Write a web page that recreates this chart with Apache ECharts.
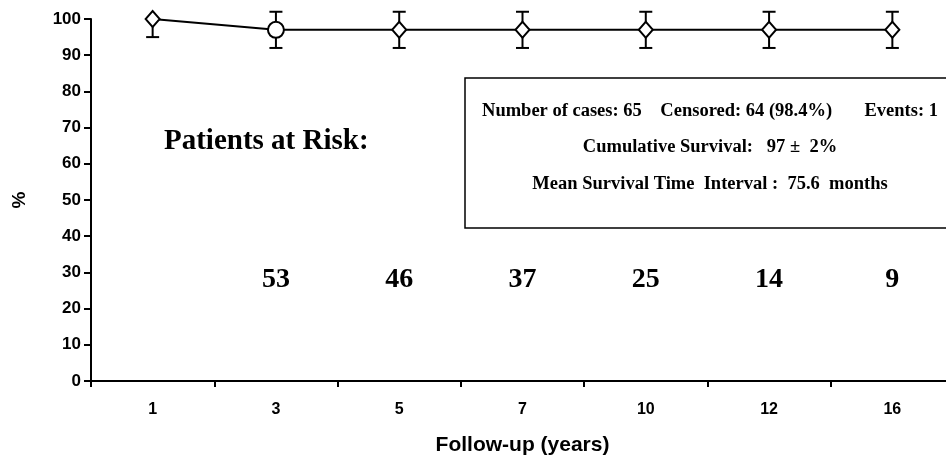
<!DOCTYPE html>
<html>
<head>
<meta charset="utf-8">
<script src="https://cdn.jsdelivr.net/npm/echarts@6/dist/echarts.min.js"></script>
<style>
  html, body { margin: 0; padding: 0; background: #fff; }
  #chart { width: 946px; height: 459px; }
</style>
</head>
<body>
<div id="chart"></div>
<script>
// Follow-up survival curve with error bars and a patients-at-risk row
const years = ['1', '3', '5', '7', '10', '12', '16']
const survival = [100, 97, 97, 97, 97, 97, 97]
const errLow = [95, 92, 92, 92, 92, 92, 92]
const errHigh = [100, 102, 102, 102, 102, 102, 102]
const pointSymbols = ['diamond', 'circle', 'diamond', 'diamond', 'diamond', 'diamond', 'diamond']
const riskYears = ['3', '5', '7', '10', '12', '16']
const riskCounts = [53, 46, 37, 25, 14, 9]
const riskRowLevel = 28
const statsLines = [
  'Number of cases: 65    Censored: 64 (98.4%)       Events: 1',
  'Cumulative Survival:   97 \u00b1  2%',
  'Mean Survival Time  Interval :  75.6  months',
]

const AXIS_FONT = { fontFamily: 'Liberation Sans, Arial', fontWeight: 'bold', color: '#000' }
const SERIF = 'Liberation Serif, Times New Roman'

const chart = echarts.init(document.getElementById('chart'))

chart.setOption({
  animation: false,
  backgroundColor: '#fff',
  grid: { left: 91, right: -8, top: 19, bottom: 78, containLabel: false, outerBoundsMode: 'none' },
  xAxis: {
    type: 'category',
    data: years,
    boundaryGap: true,
    name: 'Follow-up (years)',
    nameLocation: 'middle',
    nameGap: 54,
    nameTextStyle: { ...AXIS_FONT, fontSize: 21 },
    axisLine: { lineStyle: { color: '#000', width: 2 } },
    axisTick: { show: true, length: 6, lineStyle: { color: '#000', width: 2 } },
    axisLabel: { ...AXIS_FONT, fontSize: 16, margin: 21 },
    splitLine: { show: false },
  },
  yAxis: {
    type: 'value',
    min: 0,
    max: 100,
    interval: 10,
    name: '%',
    nameLocation: 'middle',
    nameGap: 62,
    nameRotate: 90,
    nameTextStyle: { ...AXIS_FONT, fontSize: 19 },
    axisLine: { show: true, lineStyle: { color: '#000', width: 2 } },
    axisTick: { show: true, length: 7, lineStyle: { color: '#000', width: 2 } },
    axisLabel: { ...AXIS_FONT, fontSize: 17, margin: 10 },
    splitLine: { show: false },
  },
  graphic: [
    {
      type: 'rect',
      shape: { x: 465, y: 78, width: 500, height: 150 },
      style: { fill: '#fff', stroke: '#000', lineWidth: 1.5 },
      z: 1,
    },
    ...statsLines.map((t, i) => ({
      type: 'text',
      x: 710,
      y: 111 + i * 36.5,
      z: 2,
      style: {
        text: t,
        fontFamily: SERIF,
        fontWeight: 'bold',
        fontSize: 18.5,
        fill: '#000',
        textAlign: 'center',
        textVerticalAlign: 'middle',
      },
    })),
    {
      type: 'text',
      x: 164,
      y: 142,
      z: 2,
      style: {
        text: 'Patients at Risk:',
        fontFamily: SERIF,
        fontWeight: 'bold',
        fontSize: 29,
        fill: '#000',
        textAlign: 'left',
        textVerticalAlign: 'middle',
      },
    },
  ],
  series: [
    {
      type: 'custom',
      name: 'error',
      clip: false,
      z: 3,
      data: years.map((y, i) => [i, errLow[i], errHigh[i]]),
      renderItem(params, api) {
        const lo = api.coord([api.value(0), api.value(1)])
        const hi = api.coord([api.value(0), api.value(2)])
        const x = lo[0]
        const cap = 6.5
        const style = { stroke: '#000', lineWidth: 2 }
        const children = [
          { type: 'line', shape: { x1: x, y1: lo[1], x2: x, y2: hi[1] }, style },
          { type: 'line', shape: { x1: x - cap, y1: lo[1], x2: x + cap, y2: lo[1] }, style },
        ]
        if (api.value(2) > 100) {
          children.push({ type: 'line', shape: { x1: x - cap, y1: hi[1], x2: x + cap, y2: hi[1] }, style })
        }
        return { type: 'group', children }
      },
    },
    {
      type: 'line',
      name: 'Survival',
      z: 4,
      clip: false,
      data: survival.map((v, i) => ({
        value: v,
        symbol: pointSymbols[i],
        symbolSize: pointSymbols[i] === 'circle' ? 16 : [14, 16],
      })),
      lineStyle: { color: '#000', width: 2 },
      itemStyle: { color: '#fff', borderColor: '#000', borderWidth: 2 },
      showAllSymbol: true,
    },
    {
      type: 'scatter',
      name: 'At risk',
      symbol: 'circle',
      symbolSize: 1,
      itemStyle: { color: 'rgba(0,0,0,0)', opacity: 1 },
      z: 2,
      data: riskYears.map((y, i) => ({ value: [y, riskRowLevel], count: riskCounts[i] })),
      label: {
        show: true,
        position: 'inside',
        formatter: (p) => String(p.data.count),
        fontFamily: SERIF,
        fontWeight: 'bold',
        fontSize: 28,
        color: '#000',
        opacity: 1,
      },
    },
  ],
})
</script>
</body>
</html>
